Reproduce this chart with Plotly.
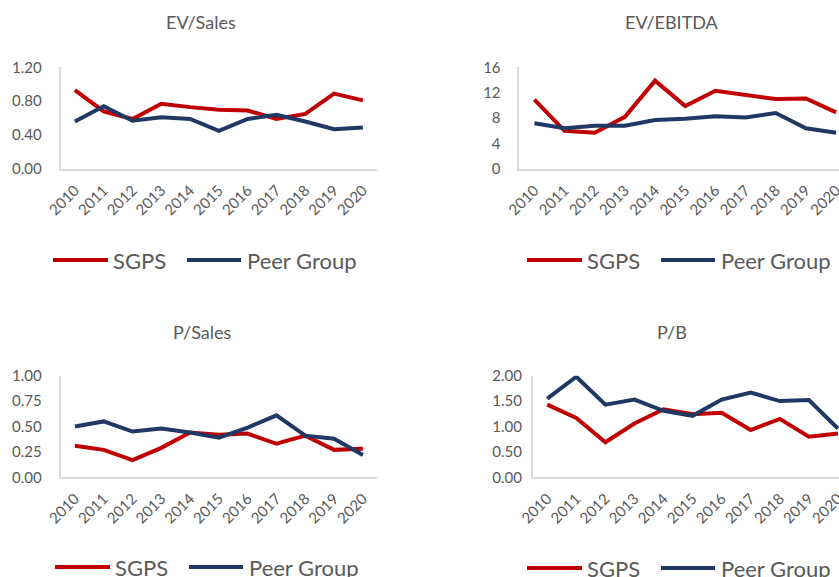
import plotly.graph_objects as go

W, H = 839, 577

years = ["2010", "2011", "2012", "2013", "2014", "2015", "2016", "2017", "2018", "2019", "2020"]

ev_sales_sgps = [0.93, 0.68, 0.59, 0.77, 0.73, 0.70, 0.69, 0.59, 0.65, 0.89, 0.81]
ev_sales_peer = [0.56, 0.74, 0.57, 0.61, 0.59, 0.45, 0.59, 0.64, 0.56, 0.47, 0.49]

ev_ebitda_sgps = [10.9, 6.0, 5.7, 8.2, 13.9, 9.9, 12.3, 11.7, 11.0, 11.1, 8.9]
ev_ebitda_peer = [7.2, 6.4, 6.8, 6.8, 7.7, 7.9, 8.3, 8.1, 8.8, 6.4, 5.7]

p_sales_sgps = [0.31, 0.27, 0.17, 0.29, 0.44, 0.42, 0.43, 0.33, 0.41, 0.27, 0.28]
p_sales_peer = [0.50, 0.55, 0.45, 0.48, 0.44, 0.39, 0.49, 0.61, 0.41, 0.38, 0.22]

p_b_sgps = [1.43, 1.17, 0.69, 1.06, 1.34, 1.24, 1.27, 0.93, 1.15, 0.80, 0.86]
p_b_peer = [1.55, 1.98, 1.43, 1.53, 1.31, 1.21, 1.53, 1.67, 1.50, 1.52, 0.96]

series_names = ["SGPS", "Peer Group"]
titles = ["EV/Sales", "EV/EBITDA", "P/Sales", "P/B"]

RED = "#C00000"
NAVY = "#203864"
GREY_TXT = "#595959"
AXIS = "#D9D9D9"
FONT = "Lato"


def fx(px):
    return px / W


def fy(py):
    return 1 - py / H


# panel geometry in pixels: plot box edges and category step
panels = [
    dict(l=60.5, r=377, t=67.3, b=169, step=28.8, yr=[0, 1.2], dt=0.4, fmt=".2f",
         data=(ev_sales_sgps, ev_sales_peer), title_x=201, title_y=22, leg_y=260, leg_x=53, stand=14),
    dict(l=519.3, r=839, t=67.3, b=169, step=30.17, yr=[0, 16], dt=4, fmt="d",
         data=(ev_ebitda_sgps, ev_ebitda_peer), title_x=672, title_y=22, leg_y=260, leg_x=527, stand=14),
    dict(l=60.5, r=377, t=375.7, b=477.3, step=28.8, yr=[0, 1.0], dt=0.25, fmt=".2f",
         data=(p_sales_sgps, p_sales_peer), title_x=202, title_y=332, leg_y=567, leg_x=55, stand=14),
    dict(l=532.7, r=839, t=375.7, b=477.3, step=29.07, yr=[0, 2.0], dt=0.5, fmt=".2f",
         data=(p_b_sgps, p_b_peer), title_x=672, title_y=332, leg_y=568, leg_x=527, stand=6),
]

fig = go.Figure()
shapes = []
annotations = []

for i, p in enumerate(panels, start=1):
    xa = "x" if i == 1 else f"x{i}"
    ya = "y" if i == 1 else f"y{i}"
    for vals, color, name in zip(p["data"], (RED, NAVY), series_names):
        fig.add_trace(go.Scatter(
            x=years, y=vals, mode="lines", name=name, showlegend=False,
            line=dict(color=color, width=4), xaxis=xa, yaxis=ya,
            hoverinfo="x+y+name",
        ))
    ncat = (p["r"] - p["l"]) / p["step"]
    xkey = "xaxis" if i == 1 else f"xaxis{i}"
    ykey = "yaxis" if i == 1 else f"yaxis{i}"
    fig.update_layout(**{
        xkey: dict(
            domain=[fx(p["l"]), fx(p["r"])], anchor=ya, type="category",
            range=[-0.5, ncat - 0.5], showline=True, linecolor=AXIS, linewidth=1.5,
            showgrid=False, zeroline=False, ticks="", tickangle=-45, automargin=False,
            tickfont=dict(family=FONT, size=15, color=GREY_TXT),
            ticklabelstandoff=5, fixedrange=True,
        ),
        ykey: dict(
            domain=[fy(p["b"]), fy(p["t"])], anchor=xa, range=p["yr"], dtick=p["dt"],
            tick0=0, tickformat=p["fmt"], showline=True, linecolor=AXIS, linewidth=1.5,
            showgrid=False, zeroline=False, ticks="", automargin=False,
            tickfont=dict(family=FONT, size=15, color=GREY_TXT),
            ticklabelstandoff=p["stand"], fixedrange=True,
        ),
    })
    annotations.append(dict(
        text=titles[i - 1], xref="paper", yref="paper", x=fx(p["title_x"]), y=fy(p["title_y"]),
        xanchor="center", yanchor="middle", showarrow=False,
        font=dict(family=FONT, size=18, color=GREY_TXT),
    ))
    # legend: line swatch followed by label, for each series
    lx = p["leg_x"]
    ly = fy(p["leg_y"])
    offsets = [(0, 55, 58), (134, 188, 192)]
    for (s0, s1, tx), color, name in zip(offsets, (RED, NAVY), series_names):
        shapes.append(dict(
            type="line", xref="paper", yref="paper",
            x0=fx(lx + s0), x1=fx(lx + s1), y0=ly, y1=ly,
            line=dict(color=color, width=4),
        ))
        annotations.append(dict(
            text=name, xref="paper", yref="paper", x=fx(lx + tx), y=ly,
            xanchor="left", yanchor="middle", showarrow=False,
            font=dict(family=FONT, size=22, color=GREY_TXT),
        ))

fig.update_layout(
    width=W, height=H, margin=dict(l=0, r=0, t=0, b=0, autoexpand=False),
    paper_bgcolor="white", plot_bgcolor="white",
    shapes=shapes, annotations=annotations, showlegend=False,
)

fig.write_html("out.html", config={"displayModeBar": False})
